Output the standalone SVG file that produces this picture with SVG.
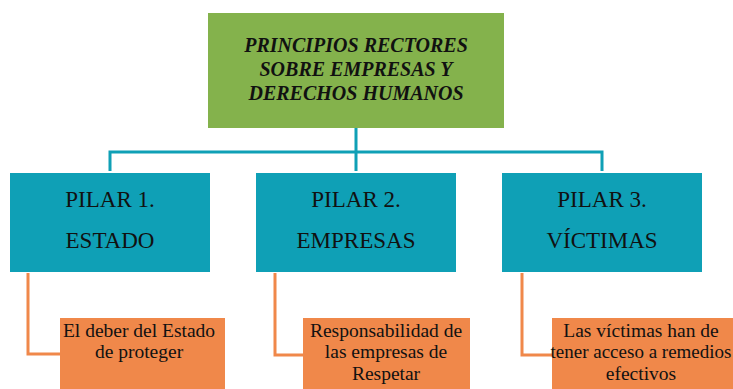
<svg xmlns="http://www.w3.org/2000/svg" width="733" height="389" viewBox="0 0 733 389">
<style>
text{font-family:'Liberation Serif','Times New Roman','DejaVu Serif',serif;fill:#111;text-anchor:middle}
.title{font-weight:bold;font-style:italic;font-size:20px}
.pillar{font-size:23px}
.desc{font-size:19.5px}
.teal{fill:#0fa0b6}
.orange{fill:#f0884a}
.tl{fill:none;stroke:#0fa0b6;stroke-width:3}
.ol{fill:none;stroke:#f0884a;stroke-width:3}
</style>
<rect width="733" height="389" fill="#ffffff"/>
<g id="connectors">
<path class="tl" d="M356,128 V171 M110,171 V152 H602 V171"/>
<path class="ol" d="M28,273 V354 H60"/>
<path class="ol" d="M275,273 V355 H303"/>
<path class="ol" d="M522,273 V355 H552"/>
</g>
<g id="root">
<rect x="208" y="13" width="296" height="115" fill="#84b24c"/>
<text class="title" x="356" y="52">PRINCIPIOS RECTORES</text>
<text class="title" x="356" y="76">SOBRE EMPRESAS Y</text>
<text class="title" x="356" y="100">DERECHOS HUMANOS</text>
</g>
<g id="pilar1">
<rect class="teal" x="10" y="173" width="200" height="99"/>
<text class="pillar" x="110" y="207">PILAR 1.</text>
<text class="pillar" x="110" y="248">ESTADO</text>
</g>
<g id="pilar2">
<rect class="teal" x="256" y="173" width="200" height="99"/>
<text class="pillar" x="356" y="207">PILAR 2.</text>
<text class="pillar" x="356" y="248">EMPRESAS</text>
</g>
<g id="pilar3">
<rect class="teal" x="502" y="173" width="200" height="99"/>
<text class="pillar" x="602" y="207">PILAR 3.</text>
<text class="pillar" x="602" y="248">VÍCTIMAS</text>
</g>
<g id="desc1">
<rect class="orange" x="60" y="318" width="165" height="71"/>
<text class="desc" x="139" y="337">El deber del Estado</text>
<text class="desc" x="139" y="358">de proteger</text>
</g>
<g id="desc2">
<rect class="orange" x="303" y="318" width="167" height="71"/>
<text class="desc" x="386" y="337">Responsabilidad de</text>
<text class="desc" x="386" y="358">las empresas de</text>
<text class="desc" x="386" y="380">Respetar</text>
</g>
<g id="desc3">
<rect class="orange" x="552" y="318" width="181" height="71"/>
<text class="desc" x="641" y="337">Las víctimas han de</text>
<text class="desc" x="641" y="358" style="font-size:19px">tener acceso a remedios</text>
<text class="desc" x="641" y="380">efectivos</text>
</g>
</svg>
